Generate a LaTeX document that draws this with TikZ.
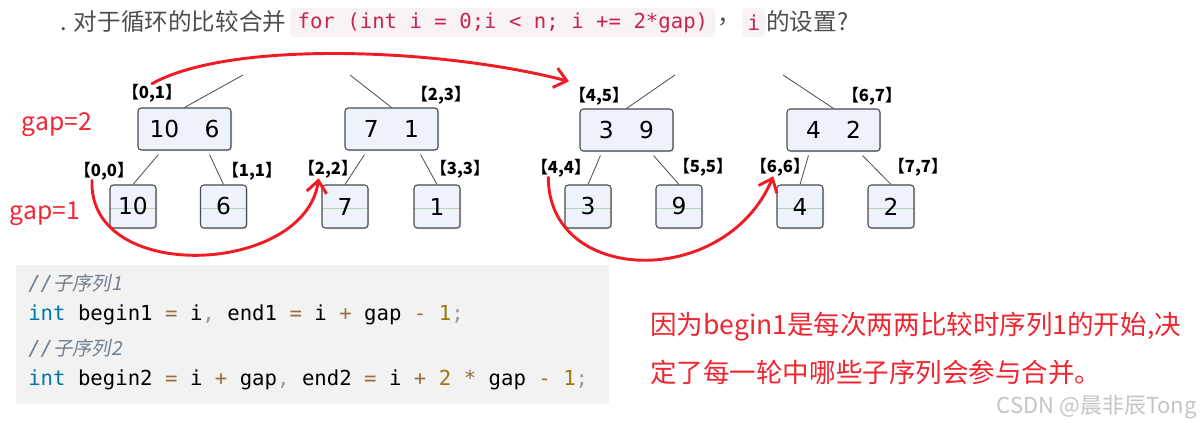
\documentclass[tikz,border=0pt]{standalone}
\usepackage{fontspec}
\setmainfont{DejaVu Sans}
\setmonofont{DejaVu Sans Mono}
\newfontfamily\cjk{Noto Sans CJK SC}
\newfontfamily\cjkit[FakeSlant=0.2]{Noto Sans CJK SC}
\usetikzlibrary{arrows.meta,shadows}

\definecolor{boxfill}{HTML}{EEF3FB}
\definecolor{boxline}{HTML}{4A4A4A}
\definecolor{midgreen}{HTML}{B7D4B7}
\definecolor{markred}{HTML}{EE1C25}
\definecolor{notered}{HTML}{F0252F}
\definecolor{titlegray}{HTML}{4D4D4D}
\definecolor{codered}{HTML}{C7254E}
\definecolor{codebg}{HTML}{F9F2F4}
\definecolor{blockbg}{HTML}{F2F2F2}
\definecolor{kwblue}{HTML}{0077AA}
\definecolor{opbrown}{HTML}{9A6E3A}
\definecolor{numgold}{HTML}{A0740A}
\definecolor{pungray}{HTML}{999999}
\definecolor{cmtgray}{HTML}{708090}
\definecolor{markgray}{HTML}{C4C4C4}

\newcommand{\codekw}[1]{\textcolor{kwblue}{#1}}
\newcommand{\codeop}[1]{\textcolor{opbrown}{#1}}
\newcommand{\codenum}[1]{\textcolor{numgold}{#1}}
\newcommand{\codepun}[1]{\textcolor{pungray}{#1}}

\begin{document}
\begin{tikzpicture}[x=0.75pt, y=-0.75pt,
    box/.style={rectangle, rounded corners=2.5pt, draw=boxline, line width=0.8pt, fill=boxfill,
      drop shadow={shadow xshift=0.8pt, shadow yshift=-0.8pt, opacity=0.3},
      font=\fontsize{17.5}{20}\selectfont, inner sep=0pt},
    pair/.style={box, minimum width=69.75pt, minimum height=31.5pt},
    leaf/.style={box, minimum width=34.5pt, minimum height=32.25pt,
      path picture={\draw[midgreen, line width=0.8pt] ([yshift=-1.8pt]path picture bounding box.west) -- ([yshift=-1.8pt]path picture bounding box.east);}},
    span/.style={font=\cjk\bfseries\fontsize{12.5}{14}\selectfont, inner sep=0pt},
    tree/.style={draw=boxline, line width=0.6pt},
    redmark/.style={markred, line width=2.2pt, line cap=round, -{Straight Barb[length=9pt,width=15pt]}},
    code/.style={anchor=west, inner sep=0pt, font=\ttfamily\fontsize{15.5}{18}\selectfont},
    say/.style={anchor=west, inner sep=0pt, text=titlegray, font=\cjk\fontsize{17.7}{20}\selectfont},
    hl/.style={anchor=west, inner xsep=5.5pt, inner ysep=0pt, minimum height=21.75pt, fill=codebg,
      rounded corners=3pt, text=codered, font=\ttfamily\fontsize{15.5}{18}\selectfont}]
  \useasboundingbox (0,0) rectangle (1201,423);

  % question line
  \node[say] (q1) at (60,22) {. 对于循环的比较合并};
  \node[hl] (q2) at (290,22.5) {for (int i = 0;i < n; i += 2*gap)};
  \node[say] (q3) at (717,22) {，};
  \node[hl, inner xsep=4pt] (q4) at (742,22.5) {i};
  \node[say] (q5) at (766,22) {的设置?};

  % gap=2 row
  \node[pair] (m01) at (184.5,129) {10\hspace{19pt}6};
  \node[pair] (m23) at (391.5,129) {7\hspace{19pt}1};
  \node[pair] (m45) at (626.5,130) {3\hspace{19pt}9};
  \node[pair] (m67) at (833.5,130) {4\hspace{19pt}2};

  % gap=1 row
  \node[leaf] (l0) at (133,206.5) {10};
  \node[leaf] (l1) at (223.5,206.5) {6};
  \node[leaf] (l2) at (345,206.5) {7};
  \node[leaf] (l3) at (437,206.5) {1};
  \node[leaf] (l4) at (588,206.5) {3};
  \node[leaf] (l5) at (679,206.5) {9};
  \node[leaf] (l6) at (800,206.5) {4};
  \node[leaf] (l7) at (891,206.5) {2};

  % ranges
  \node[span] (s01) at (152,93) {【0,1】};
  \node[span] (s23) at (441,95) {【2,3】};
  \node[span] (s45) at (599,96) {【4,5】};
  \node[span] (s67) at (872,96) {【6,7】};
  \node[span] (s00) at (104,171) {【0,0】};
  \node[span] (s11) at (252,171) {【1,1】};
  \node[span] (s22) at (328,169) {【2,2】};
  \node[span] (s33) at (460,169) {【3,3】};
  \node[span] (s44) at (561,168) {【4,4】};
  \node[span] (s55) at (703,167) {【5,5】};
  \node[span] (s66) at (780,167) {【6,6】};
  \node[span] (s77) at (918,167) {【7,7】};

  \node[text=notered, font=\cjk\fontsize{18.5}{20}\selectfont, inner sep=0pt] (g2) at (57,125) {gap=2};
  \node[text=notered, font=\cjk\fontsize{18.5}{20}\selectfont, inner sep=0pt] (g1) at (45,214) {gap=1};

  % edges
  \coordinate (p01) at (243,75);
  \coordinate (p23) at (350,75);
  \coordinate (p45) at (675,75);
  \coordinate (p67) at (783,75);
  \draw (m01.north) edge[tree] (p01);
  \draw (m23.north) edge[tree] (p23);
  \draw (m45.north) edge[tree] (p45);
  \draw (m67.north) edge[tree] (p67);
  \draw ([xshift=15.75pt,yshift=-3pt]m01.south west) edge[tree] (l0.north);
  \draw ([xshift=-16.5pt,yshift=-3pt]m01.south east) edge[tree] (l1.north);
  \draw ([xshift=15pt,yshift=-3pt]m23.south west) edge[tree] (l2.north);
  \draw ([xshift=-13.5pt,yshift=-3pt]m23.south east) edge[tree] (l3.north);
  \draw ([xshift=15.75pt,yshift=-3pt]m45.south west) edge[tree] (l4.north);
  \draw ([xshift=-15pt,yshift=-3pt]m45.south east) edge[tree] (l5.north);
  \draw ([xshift=16.5pt,yshift=-3pt]m67.south west) edge[tree] (l6.north);
  \draw ([xshift=-13.5pt,yshift=-3pt]m67.south east) edge[tree] (l7.north);

  % code block
  \fill[blockbg] (16,265) rectangle (609,404);
  \node[code, text=cmtgray] (c1) at (28,283) {\itshape//\cjkit\fontsize{14.5}{18}\selectfont 子序列1};
  \node[code] (c2) at (28,315) {\codekw{int} begin1 \codeop{=} i\codepun{,} end1 \codeop{=} i \codeop{+} gap \codeop{-} \codenum{1}\codepun{;}};
  \node[code, text=cmtgray] (c3) at (28,348) {\itshape//\cjkit\fontsize{14.5}{18}\selectfont 子序列2};
  \node[code] (c4) at (28,380) {\codekw{int} begin2 \codeop{=} i \codeop{+} gap\codepun{,} end2 \codeop{=} i \codeop{+} \codenum{2} \codeop{*} gap \codeop{-} \codenum{1}\codepun{;}};

  % note
  \node[anchor=west, inner sep=0pt, text=notered, font=\cjk\fontsize{19.9}{24}\selectfont] (n1) at (650,327) {因为begin1是每次两两比较时序列1的开始,决};
  \node[anchor=west, inner sep=0pt, text=notered, font=\cjk\fontsize{19.9}{24}\selectfont] (n2) at (650,372) {定了每一轮中哪些子序列会参与合并。};
  \node[anchor=east, inner sep=0pt, text=markgray, font=\cjk\fontsize{16.5}{20}\selectfont] (wm) at (1197,407) {CSDN @晨非辰Tong};

  % hand-drawn arrows
  \draw[redmark] (s01.north) .. controls (230,40) and (440,48) .. ([yshift=4pt]s45.north west);
  \draw[redmark] ([xshift=-9pt]s00.south) .. controls (88,285) and (305,275) .. ([xshift=-7pt]s22.south);
  \draw[redmark] ([xshift=-9.5pt]s44.south) .. controls (548,285) and (725,290) .. ([xshift=-5pt]s66.south);
\end{tikzpicture}
\end{document}
